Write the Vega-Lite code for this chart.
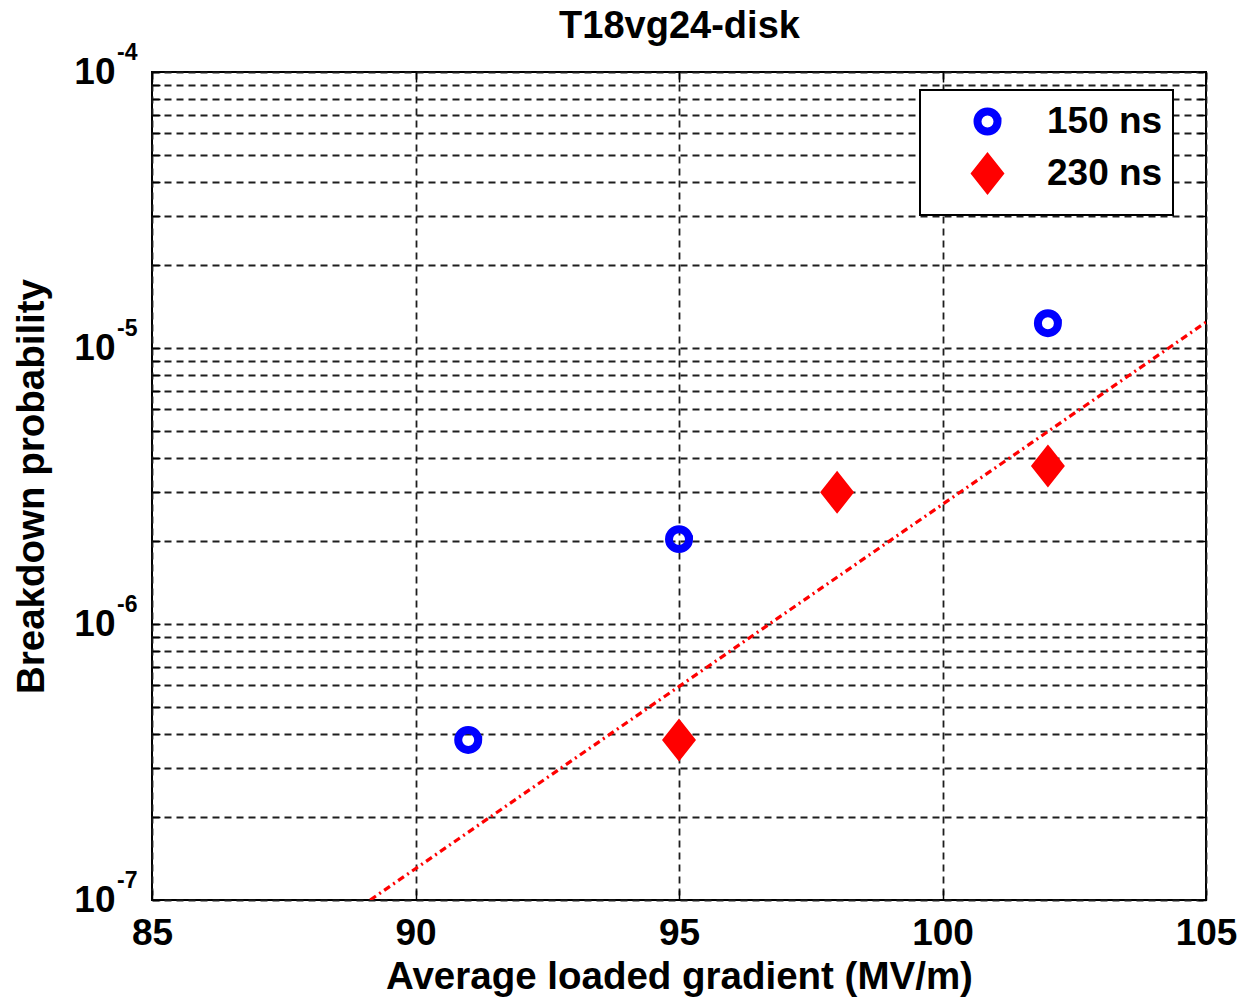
{
  "$schema": "https://vega.github.io/schema/vega-lite/v6.json",
  "autosize": {"type": "none"},
  "padding": {"left": 152, "top": 72, "right": 37, "bottom": 100},
  "width": 1054,
  "height": 828,
  "background": "white",
  "config": {
    "view": {"stroke": "black", "strokeWidth": 2},
    "font": "Liberation Sans",
    "legend": {"strokeWidth": 2}
  },
  "datasets": {
    "measured": [
      {"gradient": 91, "prob": 3.8e-7, "pulse": "150 ns"},
      {"gradient": 95, "prob": 2.03e-6, "pulse": "150 ns"},
      {"gradient": 102, "prob": 1.23e-5, "pulse": "150 ns"},
      {"gradient": 95, "prob": 3.8e-7, "pulse": "230 ns"},
      {"gradient": 98, "prob": 3.0e-6, "pulse": "230 ns"},
      {"gradient": 102, "prob": 3.74e-6, "pulse": "230 ns"}
    ],
    "fit": [
      {"gradient": 89.14, "prob": 1e-7},
      {"gradient": 105, "prob": 1.24e-5}
    ],
    "decades": [
      {"prob": 1e-7, "exp": "-7"},
      {"prob": 1e-6, "exp": "-6"},
      {"prob": 1e-5, "exp": "-5"},
      {"prob": 1e-4, "exp": "-4"}
    ]
  },
  "resolve": {"axis": {"x": "independent", "y": "independent"}},
  "layer": [
    {
      "data": {"name": "fit"},
      "mark": {"type": "line", "color": "#ff0000", "strokeWidth": 3.2, "strokeDash": [7, 4, 2, 4], "clip": true},
      "encoding": {
        "x": {
          "field": "gradient",
          "type": "quantitative",
          "scale": {"domain": [85, 105], "nice": false, "zero": false},
          "axis": {
            "orient": "bottom",
            "values": [85, 90, 95, 100, 105],
            "title": "Average loaded gradient (MV/m)",
            "domain": false,
            "grid": true,
            "gridDash": [7, 5],
            "gridColor": "#1e1e1e",
            "gridWidth": 1.8,
            "gridOpacity": 1,
            "tickSize": -10,
            "tickColor": "black",
            "tickWidth": 1.5,
            "labelFont": "Liberation Sans",
            "labelFontSize": 37,
            "labelFontWeight": "bold",
            "labelColor": "black",
            "labelPadding": 25,
            "labelFlush": false,
            "titleFont": "Liberation Sans",
            "titleFontSize": 38.5,
            "titleFontWeight": "bold",
            "titleColor": "black",
            "titlePadding": 7
          }
        },
        "y": {
          "field": "prob",
          "type": "quantitative",
          "scale": {"type": "log", "domain": [1e-7, 1e-4], "nice": false},
          "axis": {
            "orient": "left",
            "values": [1e-7, 2e-7, 3e-7, 4e-7, 5e-7, 6e-7, 7e-7, 8e-7, 9e-7, 1e-6, 2e-6, 3e-6, 4e-6, 5e-6, 6e-6, 7e-6, 8e-6, 9e-6, 1e-5, 2e-5, 3e-5, 4e-5, 5e-5, 6e-5, 7e-5, 8e-5, 9e-5, 1e-4],
            "labelExpr": "abs(log(datum.value) / LN10 - round(log(datum.value) / LN10)) < 0.001 ? '10' : ''",
            "title": "Breakdown probability",
            "domain": false,
            "grid": true,
            "gridDash": [7, 5],
            "gridColor": "#1e1e1e",
            "gridWidth": 1.8,
            "gridOpacity": 1,
            "tickSize": -8,
            "tickColor": "black",
            "tickWidth": 1.5,
            "labelFont": "Liberation Sans",
            "labelFontSize": 37,
            "labelFontWeight": "bold",
            "labelColor": "black",
            "labelPadding": 45,
            "labelFlush": false,
            "labelOverlap": false,
            "titleFont": "Liberation Sans",
            "titleFontSize": 38.5,
            "titleFontWeight": "bold",
            "titleColor": "black",
            "titlePadding": 22
          }
        }
      }
    },
    {
      "data": {"name": "measured"},
      "mark": {"type": "point", "size": 1225, "strokeWidth": 8, "opacity": 1},
      "encoding": {
        "x": {
          "field": "gradient",
          "type": "quantitative",
          "axis": {
            "orient": "top",
            "values": [85, 90, 95, 100, 105],
            "labels": false,
            "title": "T18vg24-disk",
            "titleFont": "Liberation Sans",
            "titleFontSize": 38,
            "titleFontWeight": "bold",
            "titleColor": "black",
            "titleBaseline": "alphabetic",
            "titlePadding": 34,
            "domain": false,
            "grid": false,
            "tickSize": -10,
            "tickColor": "black",
            "tickWidth": 1.5
          }
        },
        "y": {
          "field": "prob",
          "type": "quantitative",
          "axis": {
            "orient": "right",
            "values": [1e-7, 2e-7, 3e-7, 4e-7, 5e-7, 6e-7, 7e-7, 8e-7, 9e-7, 1e-6, 2e-6, 3e-6, 4e-6, 5e-6, 6e-6, 7e-6, 8e-6, 9e-6, 1e-5, 2e-5, 3e-5, 4e-5, 5e-5, 6e-5, 7e-5, 8e-5, 9e-5, 1e-4],
            "labels": false,
            "title": null,
            "domain": false,
            "grid": false,
            "tickSize": -8,
            "tickColor": "black",
            "tickWidth": 1.5
          }
        },
        "stroke": {
          "field": "pulse",
          "type": "nominal",
          "scale": {"domain": ["150 ns", "230 ns"], "range": ["#0000ff", "#ff0000"]},
          "legend": {
            "title": null,
            "orient": "none",
            "legendX": 768,
            "legendY": 18,
            "padding": 10,
            "strokeColor": "black",
            "fillColor": "white",
            "symbolSize": 1225,
            "symbolStrokeWidth": 8,
            "symbolOffset": 36,
            "labelOffset": 38,
            "rowPadding": -6,
            "labelFont": "Liberation Sans",
            "labelFontSize": 37,
            "labelFontWeight": "bold",
            "labelColor": "black",
            "labelLimit": 400
          }
        },
        "fill": {
          "field": "pulse",
          "type": "nominal",
          "scale": {"domain": ["150 ns", "230 ns"], "range": ["transparent", "#ff0000"]}
        },
        "shape": {
          "field": "pulse",
          "type": "nominal",
          "scale": {
            "domain": ["150 ns", "230 ns"],
            "range": [
              "M0.571,0A0.571,0.571,0,1,1,-0.571,0A0.571,0.571,0,1,1,0.571,0Z",
              "M0,-0.86L0.68,0L0,0.86L-0.68,0Z"
            ]
          }
        }
      }
    },
    {
      "data": {"name": "decades"},
      "mark": {
        "type": "text",
        "align": "left",
        "baseline": "alphabetic",
        "dx": -35,
        "dy": -12,
        "font": "Liberation Sans",
        "fontSize": 23,
        "fontWeight": "bold",
        "color": "black"
      },
      "encoding": {
        "x": {"datum": 85, "type": "quantitative", "axis": null},
        "y": {"field": "prob", "type": "quantitative", "axis": null},
        "text": {"field": "exp"}
      }
    }
  ]
}
